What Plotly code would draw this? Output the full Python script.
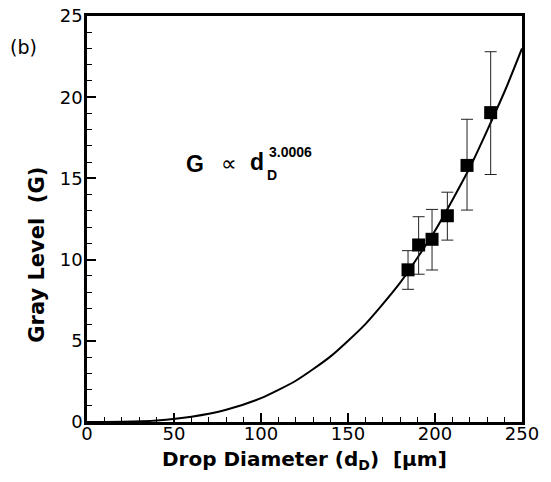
import plotly.graph_objects as go

# Measured data points (drop diameter in µm, gray level G)
diam = [184.5, 190.6, 198.3, 207.1, 218.4, 232.0]
gray = [9.37, 10.9, 11.25, 12.7, 15.8, 19.05]
err_hi = [10.55, 12.64, 13.09, 14.15, 18.64, 22.8]
err_lo = [8.17, 9.10, 9.36, 11.2, 13.05, 15.24]

# Fitted power-law curve
curve_d = [0, 20, 40, 60, 80, 100, 120, 140, 160, 180, 200, 220, 240, 250]
curve_g = [0.0, 0.01, 0.09, 0.32, 0.75, 1.47, 2.54, 4.04, 6.03, 8.58, 11.78, 15.67, 20.35, 23.0]

x_ticks = [0, 50, 100, 150, 200, 250]
y_ticks = [0, 5, 10, 15, 20, 25]

plus = [h - g for h, g in zip(err_hi, gray)]
minus = [g - l for l, g in zip(err_lo, gray)]

FONT = "DejaVu Sans, Arial, sans-serif"
EQ_FONT = "Liberation Sans, Arial, Helvetica, sans-serif"

# plot-area geometry in pixels (for placing free text)
L, R, T, B = 87.3, 522.3, 15.6, 422.3
def px(xp):
    return (xp - L) / (R - L)
def py(yp):
    return (B - yp) / (B - T)

fig = go.Figure()
fig.add_trace(go.Scatter(
    x=curve_d, y=curve_g, mode="lines",
    line=dict(color="black", width=2, shape="spline", smoothing=0.6),
    showlegend=False, hoverinfo="skip"))
fig.add_trace(go.Scatter(
    x=diam, y=gray, mode="markers",
    marker=dict(symbol="square", size=13, color="black"),
    error_y=dict(type="data", symmetric=False, array=plus, arrayminus=minus,
                 color="#222", thickness=1, width=6),
    showlegend=False))

axis_common = dict(
    showgrid=False, zeroline=False, showline=True, linecolor="black",
    linewidth=2.5, mirror=True, ticks="inside", tickcolor="black",
    tickwidth=2, ticklen=9, automargin=False,
    tickfont=dict(family=FONT, size=18, color="black"),
)
fig.update_xaxes(range=[0, 250], tickvals=x_ticks, ticklabelstandoff=-6,
                 minor=dict(dtick=10, ticks="inside", ticklen=5, tickwidth=1, tickcolor="black"),
                 **axis_common)
fig.update_yaxes(range=[0, 25], tickvals=y_ticks, ticklabelstandoff=-2,
                 minor=dict(dtick=1, ticks="inside", ticklen=5, tickwidth=1, tickcolor="black"),
                 **axis_common)

ann = [
    dict(text="(b)", xref="paper", yref="paper", x=px(24), y=py(47),
         showarrow=False, font=dict(family=FONT, size=19, color="black"),
         xanchor="center", yanchor="middle"),
    dict(text="<b>Drop Diameter (d<sub>D</sub>)  [μm]</b>", xref="paper", yref="paper",
         x=0.5, y=py(460), showarrow=False,
         font=dict(family=FONT, size=20, color="black"), xanchor="center", yanchor="middle"),
    dict(text="<b>Gray Level  (G)</b>", xref="paper", yref="paper",
         x=px(37), y=py(255), textangle=-90, showarrow=False,
         font=dict(family=FONT, size=21, color="black"), xanchor="center", yanchor="middle"),
    dict(text="<b>G</b>", xref="x", yref="y", x=62.0, y=15.9, showarrow=False,
         font=dict(family=EQ_FONT, size=23, color="black"), xanchor="center", yanchor="middle"),
    dict(text="∝", xref="x", yref="y", x=81.4, y=15.9, showarrow=False,
         font=dict(family=EQ_FONT, size=22, color="black"), xanchor="center", yanchor="middle"),
    dict(text="<b>d</b>", xref="x", yref="y", x=97.9, y=16.0, showarrow=False,
         font=dict(family=EQ_FONT, size=23, color="black"), xanchor="center", yanchor="middle"),
    dict(text="<b>3.0006</b>", xref="x", yref="y", x=103.3, y=16.6, showarrow=False,
         font=dict(family=EQ_FONT, size=14, color="black"), xanchor="left", yanchor="middle"),
    dict(text="<b>D</b>", xref="x", yref="y", x=102.1, y=15.2, showarrow=False,
         font=dict(family=EQ_FONT, size=14, color="black"), xanchor="left", yanchor="middle"),
]

fig.update_layout(
    width=551, height=482, autosize=False,
    margin=dict(l=87, r=29, t=16, b=60),
    paper_bgcolor="white", plot_bgcolor="white",
    annotations=ann,
)

fig.write_html("out.html", config={"displayModeBar": False},
               post_script="document.body.style.margin='0';document.body.style.padding='0';")
